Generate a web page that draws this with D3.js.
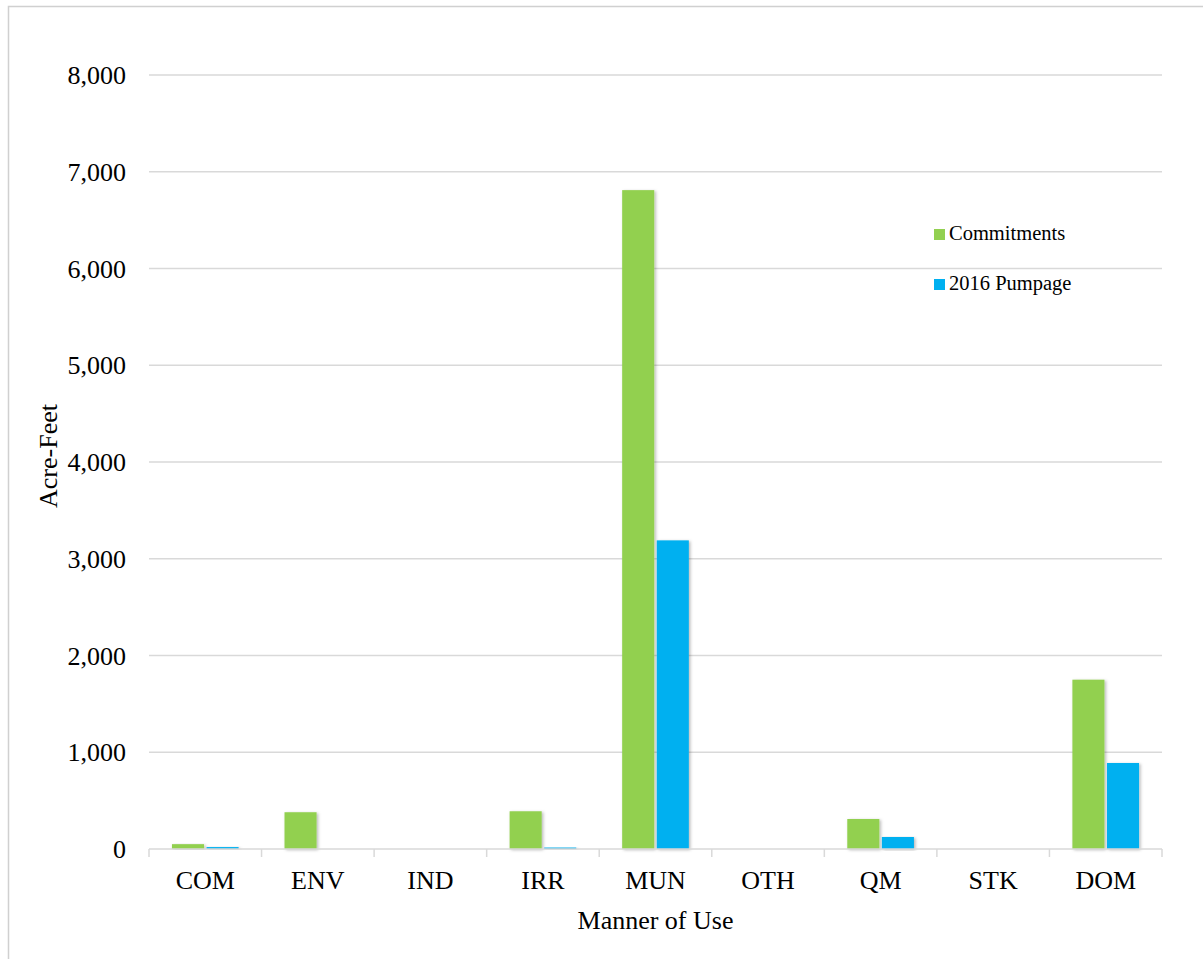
<!DOCTYPE html>
<html><head><meta charset="utf-8">
<script src="https://cdn.jsdelivr.net/npm/d3@7"></script>
<style>body{margin:0;background:#fff}svg{display:block}text{font-family:"Liberation Serif","Times New Roman",serif;fill:#000}</style>
</head><body>
<svg id="c" width="1203" height="959"></svg>
<script>
const categories = ["COM","ENV","IND","IRR","MUN","OTH","QM","STK","DOM"];
const commitments = [50, 380, 0, 390, 6810, 0, 310, 0, 1750];
const pumpage2016 = [20, 0, 0, 15, 3190, 0, 124, 0, 889];
const seriesNames = ["Commitments", "2016 Pumpage"];
const seriesColors = ["#92d050", "#00b0f0"];
const yTicks = [0,1000,2000,3000,4000,5000,6000,7000,8000];

const svg = d3.select("#c");
const defs = svg.append("defs");
const f = defs.append("filter").attr("id","sh").attr("x","-20%").attr("y","-5%").attr("width","150%").attr("height","120%");
f.append("feDropShadow").attr("dx",1.5).attr("dy",1).attr("stdDeviation",1.5).attr("flood-color","#000").attr("flood-opacity",0.28);

svg.append("rect").attr("x",8.5).attr("y",6.5).attr("width",1300).attr("height",1000)
  .attr("fill","none").attr("stroke","#d0d0d0").attr("stroke-width",1.5);

const L=149, R=1162, T=75, B=849;
const x = d3.scaleBand().domain(categories).range([L,R]).paddingInner(0).paddingOuter(0);
const y = d3.scaleLinear().domain([0,8000]).range([B,T]);

// grid
const g = svg.append("g");
g.selectAll("line.grid").data(yTicks.slice(1)).join("line")
  .attr("x1",L).attr("x2",R).attr("y1",d=>y(d)).attr("y2",d=>y(d))
  .attr("stroke","#d9d9d9").attr("stroke-width",1.5);

// y labels
const yAxis = d3.axisLeft(y).tickValues(yTicks).tickFormat(d3.format(",")).tickSize(0).tickPadding(0);
const ya = svg.append("g").attr("transform",`translate(${126},0)`).call(yAxis);
ya.select(".domain").remove();
ya.selectAll("text").attr("font-size",26).attr("font-family","Liberation Serif").attr("fill","#000").attr("dy","0.33em");

// bars
const bw = x.bandwidth()*0.285, gap = 2.5;
const series = [commitments, pumpage2016];
series.forEach((vals,si)=>{
  svg.append("g").selectAll("rect").data(categories).join("rect")
    .attr("x",(c)=>x(c)+x.bandwidth()/2 + (si===0 ? -bw - gap/2 : gap/2))
    .attr("width",bw)
    .attr("y",(c,i)=>y(vals[i]))
    .attr("height",(c,i)=>B-y(vals[i]))
    .attr("fill",seriesColors[si])
    .attr("filter",(c,i)=>vals[i]>0?"url(#sh)":null);
});

// x axis
const xAxis = d3.axisBottom(x).tickSize(0).tickPadding(0);
const xa = svg.append("g").attr("transform",`translate(0,${B})`).call(xAxis);
xa.select(".domain").remove();
xa.selectAll(".tick text").attr("font-size",26).attr("font-family","Liberation Serif").attr("fill","#000").attr("y",40).attr("dy",0);
svg.append("line").attr("x1",L).attr("x2",R).attr("y1",B).attr("y2",B).attr("stroke","#d9d9d9").attr("stroke-width",1.5);
const bounds = categories.map(c=>x(c)).concat([R]);
svg.append("g").selectAll("line").data(bounds).join("line")
  .attr("x1",d=>d).attr("x2",d=>d).attr("y1",B).attr("y2",B+8)
  .attr("stroke","#d9d9d9").attr("stroke-width",1.5);

// axis titles
svg.append("text").attr("x",(L+R)/2).attr("y",929).attr("text-anchor","middle").attr("font-size",26).text("Manner of Use");
svg.append("text").attr("transform",`translate(57,456) rotate(-90)`).attr("text-anchor","middle").attr("font-size",26).text("Acre-Feet");

// legend
const lg = svg.append("g");
seriesNames.forEach((n,i)=>{
  const yy = 229 + i*50;
  lg.append("rect").attr("x",934).attr("y",yy).attr("width",11).attr("height",11).attr("fill",seriesColors[i]);
  lg.append("text").attr("x",949).attr("y",yy+11).attr("font-size",20.5).text(n);
});
</script>
</body></html>
